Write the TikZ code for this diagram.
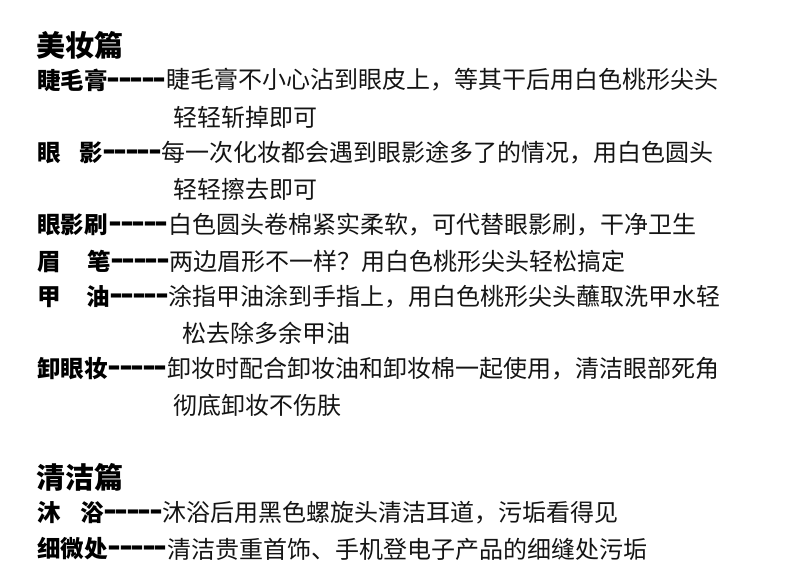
\documentclass[tikz,border=0pt]{standalone}
\usepackage{fontspec}
\setmainfont{Noto Sans CJK SC}
\usepackage{graphicx}
\newcommand\dd{\makebox[11.6pt]{\scalebox{1.55}[1.4]{-}}}
\newcommand\dashes{\dd\dd\dd\dd\dd}
\tikzset{
  title/.style={inner sep=0pt, anchor=west, font=\fontsize{29}{29}\selectfont\bfseries},
  lab/.style={inner sep=0pt, anchor=west, font=\fontsize{23.5}{24}\selectfont\bfseries},
  body/.style={inner sep=0pt, anchor=west, font=\fontsize{24}{24}\selectfont, text=black!92},
  cont/.style={inner sep=0pt, anchor=west, font=\fontsize{24}{24}\selectfont, text=black!92}
}
\begin{document}
\begin{tikzpicture}[x=1pt,y=-1pt]
\useasboundingbox (0,0) rectangle (790,582);
\node[title] (t1) at (36,45) {美妆篇};
\node[lab] (l1) at (37,80) {睫毛膏\dashes};
\node[body] (b1) at (l1.east) {睫毛膏不小心沾到眼皮上，等其干后用白色桃形尖头};
\node[cont] (c1) at (173,117) {轻轻斩掉即可};
\node[lab] (l2) at (37,153) {眼\hspace{19pt}影\dashes};
\node[body] (b2) at (l2.east) {每一次化妆都会遇到眼影途多了的情况，用白色圆头};
\node[cont] (c2) at (173,189) {轻轻擦去即可};
\node[lab] (l3) at (37,225) {眼影刷\hspace{2pt}\dashes};
\node[body] (b3) at (l3.east) {白色圆头卷棉紧实柔软，可代替眼影刷，干净卫生};
\node[lab] (l4) at (37,261) {眉\hspace{27pt}笔\dashes};
\node[body] (b4) at (l4.east) {两边眉形不一样？用白色桃形尖头轻松搞定};
\node[lab] (l5) at (37,297) {甲\hspace{26pt}油\dashes};
\node[body] (b5) at (l5.east) {涂指甲油涂到手指上，用白色桃形尖头蘸取洗甲水轻};
\node[cont] (c5) at (182,333) {松去除多余甲油};
\node[lab] (l6) at (37,369) {卸眼妆\hspace{1pt}\dashes};
\node[body] (b6) at (l6.east) {卸妆时配合卸妆油和卸妆棉一起使用，清洁眼部死角};
\node[cont] (c6) at (173,405) {彻底卸妆不伤肤};
\node[title] (t2) at (36,477) {清洁篇};
\node[lab] (l7) at (37,513) {沐\hspace{20pt}浴\dashes};
\node[body] (b7) at (l7.east) {沐浴后用黑色螺旋头清洁耳道，污垢看得见};
\node[lab] (l8) at (37,549) {细微处\hspace{1pt}\dashes};
\node[body] (b8) at (l8.east) {清洁贵重首饰、手机登电子产品的细缝处污垢};
\end{tikzpicture}
\end{document}
